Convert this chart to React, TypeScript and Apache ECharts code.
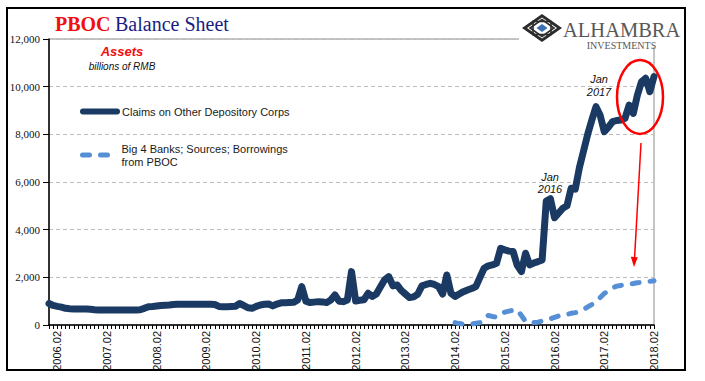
import React, { useEffect, useRef } from "react";
import * as echarts from "echarts";

// Monthly categories, 2005.12 .. 2018.02
const FIRST_YEAR = 2005;
const FIRST_MONTH = 12;
const MONTH_COUNT = 147;
const categories: string[] = [];
for (let i = 0; i < MONTH_COUNT; i++) {
  const t = FIRST_YEAR * 12 + (FIRST_MONTH - 1) + i;
  const y = Math.floor(t / 12);
  const m = (t % 12) + 1;
  categories.push(`${y}.${m < 10 ? "0" + m : m}`);
}

const SERIES_CLAIMS = "Claims on Other Depository Corps";
const SERIES_BIG4 = "Big 4 Banks; Sources; Borrowings from PBOC";

// billions of RMB
const claimsValues = [
  900, 820, 780, 750, 700, 680, 670, 670, 670, 670, 660, 640,
  630, 630, 630, 630, 630, 630, 630, 630, 630, 630, 640, 700,
  770, 780, 800, 820, 830, 840, 860, 870, 870, 870, 870, 870,
  870, 870, 870, 870, 860, 780, 770, 770, 780, 790, 900, 820,
  720, 700, 780, 840, 870, 880, 800, 880, 930, 930, 940, 950,
  1050, 1610, 1000, 940, 960, 980, 970, 940, 1050, 1260, 1000, 980,
  1050, 2240, 1010, 1040, 1060, 1330, 1200, 1300, 1600, 1900, 2030, 1640,
  1680, 1450, 1300, 1150, 1180, 1300, 1640, 1700, 1750, 1700, 1610, 1300,
  2100, 1330, 1200, 1300, 1400, 1470, 1530, 1610, 2000, 2380, 2480, 2520,
  2590, 3220, 3150, 3100, 3080, 2500, 2240, 3010, 2520, 2600, 2660, 2730,
  5200, 5300, 4500, 4700, 4900, 5000, 5740, 5700, 6600, 7300, 8000, 8600,
  9160, 8800, 8110, 8300, 8530, 8580, 8600, 8670, 9230, 8880, 9650, 10210,
  10350, 9790, 10420,
];

const big4StartLabel = "2014.02";
const big4Values = [
  100, 60, 40, 40, 50, 70, 100, 300, 400, 360,
  330, 450, 540, 580, 620, 640, 400, 150, 100, 100,
  120, 170, 210, 260, 320, 380, 420, 450, 490, 520,
  560, 650, 760, 860, 1000, 1150, 1320, 1450, 1560, 1630,
  1660, 1690, 1720, 1740, 1770, 1790, 1810, 1830, 1860,
];

const yMin = 0;
const yMax = 12000;
const yInterval = 2000;

const DARK = "#1b3a63";
const LIGHT = "#568fd6";

export default function App() {
  const ref = useRef<HTMLDivElement>(null);

  useEffect(() => {
    if (!ref.current) return;
    const chart = echarts.init(ref.current, undefined, { renderer: "svg" });
    const startIdx = categories.indexOf(big4StartLabel);
    const big4Data = categories.map((_, i) =>
      i < startIdx ? null : big4Values[i - startIdx] ?? null
    );

    const legendText = {
      fontFamily: "Liberation Sans, Arial, sans-serif",
      fontSize: 11,
      color: "#1a1a1a",
    };

    const option: any = {
      animation: false,
      backgroundColor: "#fff",
      grid: {
        left: 49,
        right: 51,
        top: 39,
        bottom: 56,
        show: true,
        borderColor: "#8c8c8c",
        borderWidth: 1,
        backgroundColor: "transparent",
      },
      xAxis: {
        type: "category",
        data: categories,
        boundaryGap: false,
        axisLine: { show: true, lineStyle: { color: "#000", width: 1.5 } },
        axisTick: { show: true, interval: 0, length: 4, lineStyle: { color: "#000", width: 1 } },
        axisLabel: {
          interval: (i: number) => i % 12 === 2,
          rotate: 90,
          margin: 6,
          fontFamily: "Liberation Sans Narrow, Liberation Sans, Arial, sans-serif",
          fontSize: 11,
          color: "#111",
        },
        splitLine: { show: false },
      },
      yAxis: {
        type: "value",
        min: yMin,
        max: yMax,
        interval: yInterval,
        axisLine: { show: true, lineStyle: { color: "#000", width: 1.5 } },
        axisTick: { show: true, length: 6, lineStyle: { color: "#000" } },
        axisLabel: {
          formatter: (v: number) => v.toLocaleString("en-US"),
          fontFamily: "Liberation Serif, Times New Roman, serif",
          fontSize: 11,
          color: "#111",
          margin: 9,
        },
        splitLine: { show: true, lineStyle: { color: "#bdbdbd", type: [4, 3], width: 1 } },
      },
      legend: [
        {
          data: [SERIES_CLAIMS],
          left: 80,
          top: 106,
          orient: "vertical",
          padding: 0,
          itemWidth: 34,
          itemHeight: 14,
          selectedMode: false,
          textStyle: legendText,
          lineStyle: { width: 6, cap: "round" },
          itemStyle: { color: "rgba(0,0,0,0)", borderWidth: 0, opacity: 0 },
        },
        {
          data: [SERIES_BIG4],
          left: 80,
          top: 135.5,
          orient: "vertical",
          padding: 0,
          itemWidth: 34,
          itemHeight: 14,
          selectedMode: false,
          formatter: () => "Big 4 Banks; Sources; Borrowings\nfrom PBOC",
          textStyle: { ...legendText, lineHeight: 13, padding: [13, 0, 0, 0] },
          lineStyle: { width: 5, cap: "round" },
          itemStyle: { color: "rgba(0,0,0,0)", borderWidth: 0, opacity: 0 },
        },
      ],
      series: [
        {
          name: SERIES_CLAIMS,
          type: "line",
          data: claimsValues,
          symbol: "none",
          showSymbol: false,
          color: DARK,
          lineStyle: { color: DARK, width: 7, cap: "round", join: "round" },
          z: 3,
        },
        {
          name: SERIES_BIG4,
          type: "line",
          data: big4Data,
          symbol: "none",
          showSymbol: false,
          color: LIGHT,
          lineStyle: { color: LIGHT, width: 5, type: [7, 11], cap: "round", join: "round" },
          z: 4,
        },
      ],
      graphic: [
        {
          type: "rect",
          z: 100,
          shape: { x: 7, y: 8, width: 678, height: 362 },
          style: { fill: "none", stroke: "#000", lineWidth: 2 },
        },
        {
          type: "rect",
          z: 100,
          shape: { x: 519, y: 10, width: 165, height: 37 },
          style: { fill: "#fff", stroke: "none" },
        },
        // logo
        {
          type: "polygon",
          z: 101,
          shape: { points: [[522, 28], [542, 14], [562, 28], [542, 42]] },
          style: { fill: "#2b2b2b" },
        },
        {
          type: "polygon",
          z: 102,
          shape: { points: [[527, 28], [542, 17.5], [557, 28], [542, 38.5]] },
          style: { fill: "#fff" },
        },
        {
          type: "rect",
          z: 103,
          shape: { x: 533, y: 21.5, width: 18, height: 13 },
          style: { fill: "none", stroke: "#2b2b2b", lineWidth: 1.6 },
        },
        {
          type: "polygon",
          z: 103,
          shape: { points: [[530, 28], [542, 19.5], [554, 28], [542, 36.5]] },
          style: { fill: "none", stroke: "#2b2b2b", lineWidth: 1.6 },
        },
        {
          type: "polygon",
          z: 104,
          shape: { points: [[536.5, 28], [542, 24], [547.5, 28], [542, 32]] },
          style: { fill: "#3b6fb6" },
        },
        {
          type: "text",
          z: 101,
          x: 563,
          y: 30,
          style: {
            text: "ALHAMBRA",
            fontFamily: "Liberation Serif, Times New Roman, serif",
            fontSize: 20.5,
            lineHeight: 16,
            fill: "#585858",
            verticalAlign: "middle",
            align: "left",
          },
        },
        {
          type: "text",
          z: 101,
          x: 621.5,
          y: 45.5,
          style: {
            text: "INVESTMENTS",
            fontFamily: "Liberation Serif, Times New Roman, serif",
            fontSize: 10,
            lineHeight: 10,
            fill: "#585858",
            verticalAlign: "middle",
            align: "center",
          },
        },
        // title
        {
          type: "text",
          z: 101,
          x: 55,
          y: 24,
          style: {
            text: "PBOC",
            fontFamily: "Liberation Serif, Times New Roman, serif",
            fontWeight: "bold",
            fontSize: 20,
            fill: "#f01010",
            verticalAlign: "middle",
          },
        },
        {
          type: "text",
          z: 101,
          x: 115,
          y: 24,
          style: {
            text: "Balance Sheet",
            fontFamily: "Liberation Serif, Times New Roman, serif",
            fontSize: 20,
            fill: "#1c1c82",
            verticalAlign: "middle",
          },
        },
        {
          type: "text",
          z: 101,
          x: 122,
          y: 51,
          style: {
            text: "Assets",
            fontFamily: "Liberation Sans, Arial, sans-serif",
            fontWeight: "bold",
            fontStyle: "italic",
            fontSize: 13,
            fill: "#f01010",
            align: "center",
            verticalAlign: "middle",
          },
        },
        {
          type: "text",
          z: 101,
          x: 122,
          y: 66,
          style: {
            text: "billions of RMB",
            fontFamily: "Liberation Sans, Arial, sans-serif",
            fontStyle: "italic",
            fontSize: 10,
            fill: "#111",
            align: "center",
            verticalAlign: "middle",
          },
        },
        {
          type: "text",
          z: 101,
          x: 550,
          y: 183,
          style: {
            text: "Jan\n2016",
            fontFamily: "Liberation Sans, Arial, sans-serif",
            fontStyle: "italic",
            fontSize: 11,
            lineHeight: 12.5,
            fill: "#111",
            align: "center",
            verticalAlign: "middle",
          },
        },
        {
          type: "text",
          z: 101,
          x: 599,
          y: 85,
          style: {
            text: "Jan\n2017",
            fontFamily: "Liberation Sans, Arial, sans-serif",
            fontStyle: "italic",
            fontSize: 11,
            lineHeight: 13,
            fill: "#111",
            align: "center",
            verticalAlign: "middle",
          },
        },
        {
          type: "ellipse",
          z: 105,
          shape: { cx: 640, cy: 97, rx: 23, ry: 37 },
          style: { fill: "none", stroke: "#f00", lineWidth: 2.5 },
        },
        {
          type: "line",
          z: 105,
          shape: { x1: 641, y1: 143, x2: 634.5, y2: 259 },
          style: { stroke: "#f00", lineWidth: 1.5 },
        },
        {
          type: "polygon",
          z: 105,
          shape: { points: [[634, 267], [637.8, 257.2], [630.8, 256.8]] },
          style: { fill: "#f00" },
        },
      ],
    };

    chart.setOption(option);
    return () => chart.dispose();
  }, []);

  return (
    <div
      ref={ref}
      style={{ position: "absolute", left: 0, top: 0, width: 705, height: 381, background: "#fff" }}
    />
  );
}
